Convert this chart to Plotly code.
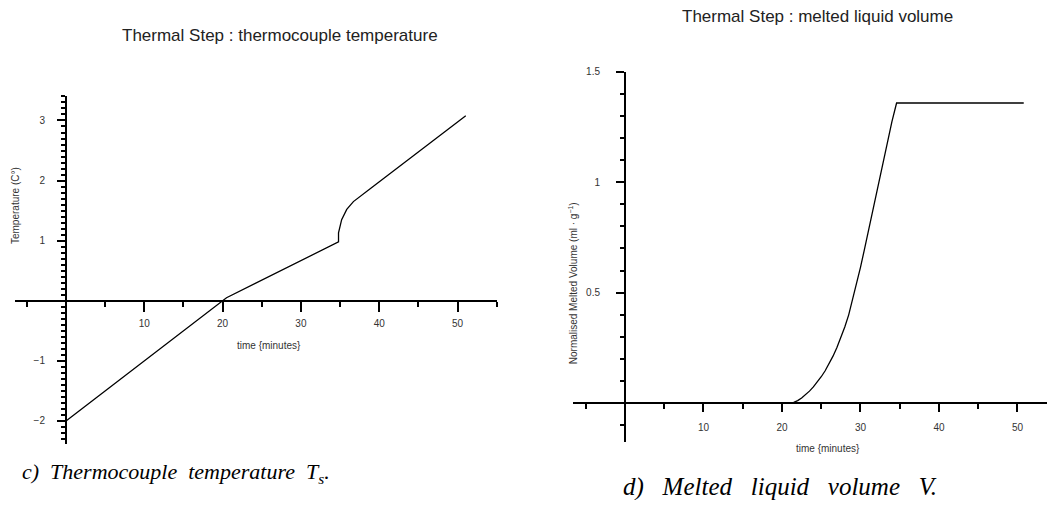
import plotly.graph_objects as go

# thermocouple temperature (left panel)
temp_time = [0, 20.5, 34.8, 34.8, 35.2, 35.85, 36.7, 37.55, 38.8, 51.05]
temp_value = [-2.0, 0.05, 0.98, 1.13, 1.35, 1.52, 1.65, 1.74, 1.86, 3.08]

# melted liquid volume (right panel)
vol_time = [0, 20.8, 21.5, 22.0, 22.5, 23.0, 23.5, 24.0, 24.5, 25.0, 25.5, 26.0,
            26.5, 27.0, 27.5, 28.0, 28.5, 29.0, 29.5, 30.0, 30.5, 31.0, 31.5,
            32.0, 32.5, 33.0, 33.5, 34.0, 34.6, 50.8]
vol_value = [0, 0, 0.004, 0.012, 0.024, 0.038, 0.055, 0.074, 0.096, 0.12, 0.147, 0.178,
             0.213, 0.252, 0.296, 0.345, 0.4, 0.47, 0.54, 0.615, 0.695, 0.775, 0.857,
             0.94, 1.023, 1.106, 1.19, 1.273, 1.358, 1.358]

temp_ticks = [-2, -1, 1, 2, 3]
vol_ticks = [0.5, 1, 1.5]
vol_tick_text = ["0.5", "1", "1.5"]
time_ticks = [10, 20, 30, 40, 50]

# the page adds an 8px body margin, so the figure is drawn a bit smaller
OFF = 8
W, H = 1055 - 2 * OFF, 508 - 2 * OFF


def px(x):
    return (x - OFF) / W


def py(y):
    return 1 - (y - OFF) / H


tick_font = dict(family="Liberation Sans, Arial, sans-serif", size=10, color="#333")

fig = go.Figure()

fig.add_trace(go.Scatter(
    x=temp_time, y=temp_value, mode="lines",
    line=dict(color="black", width=1.3),
    xaxis="x", yaxis="y", showlegend=False, hoverinfo="skip"
))

fig.add_trace(go.Scatter(
    x=vol_time, y=vol_value, mode="lines",
    line=dict(color="black", width=1.3),
    xaxis="x2", yaxis="y2", showlegend=False, hoverinfo="skip"
))

axis_common = dict(
    showgrid=False, zeroline=False, showline=True,
    linecolor="black", linewidth=2,
    ticks="outside", tickcolor="black", tickwidth=2,
    tickfont=tick_font, anchor="free"
)

fig.update_layout(
    width=W, height=H,
    margin=dict(l=0, r=0, t=0, b=0),
    plot_bgcolor="white", paper_bgcolor="white",
    xaxis=dict(
        axis_common,
        domain=[px(15.1), px(496.7)], range=[-6.5, 55],
        position=py(298.7),
        tickvals=time_ticks, ticklen=10, ticklabelstandoff=3,
        minor=dict(dtick=5, tick0=0, ticks="outside", ticklen=5,
                   tickwidth=1.5, tickcolor="black"),
    ),
    yaxis=dict(
        axis_common,
        domain=[py(443.2), py(92.3)], range=[-2.38, 3.4],
        position=px(66),
        tickvals=temp_ticks, ticklen=8, ticklabelstandoff=10,
        minor=dict(dtick=0.1, tick0=0, ticks="outside", ticklen=4,
                   tickwidth=1.5, tickcolor="black"),
    ),
    xaxis2=dict(
        axis_common,
        domain=[px(573.2), px(1046.5)], range=[-6.6, 53.7],
        position=py(402.3),
        tickvals=time_ticks, ticklen=8, ticklabelstandoff=7,
        minor=dict(dtick=5, tick0=0, ticks="outside", ticklen=5,
                   tickwidth=1.5, tickcolor="black"),
    ),
    yaxis2=dict(
        axis_common,
        domain=[py(441.6), py(67.2)], range=[-0.176, 1.5],
        position=px(625),
        tickvals=vol_ticks, ticktext=vol_tick_text,
        ticklen=8, ticklabelstandoff=14,
        minor=dict(dtick=0.1, tick0=0, ticks="outside", ticklen=4,
                   tickwidth=1.5, tickcolor="black"),
    ),
)

label_font = dict(family="Liberation Sans, Arial, sans-serif", size=10, color="#333")
title_font = dict(family="Liberation Sans, Arial, sans-serif", size=17, color="#222")
caption_font = dict(family="Liberation Serif, Times New Roman, serif", size=22, color="black")
caption_font_d = dict(family="Liberation Serif, Times New Roman, serif", size=25, color="black")

annotations = [
    dict(text="Thermal Step : thermocouple temperature", x=px(280), y=py(31), font=title_font),
    dict(text="Thermal Step : melted liquid volume", x=px(817), y=py(12), font=title_font),
    dict(text="Temperature (C°)", x=px(15), y=py(203), textangle=-90, font=label_font),
    dict(text="Normalised Melted Volume (ml · g<sup>−1</sup>)", x=px(573), y=py(281),
         textangle=-90, font=label_font),
    dict(text="time {minutes}", x=px(269), y=py(344), font=label_font),
    dict(text="time {minutes}", x=px(828), y=py(448), font=label_font),
    dict(text="<i>c)  Thermocouple  temperature  T<sub>s</sub>.</i>", x=px(20), y=py(473),
         xanchor="left", font=caption_font),
    dict(text="<i>d)   Melted   liquid   volume   V.</i>", x=px(621), y=py(487),
         xanchor="left", font=caption_font_d),
]

for a in annotations:
    a.setdefault("xanchor", "center")
    fig.add_annotation(xref="paper", yref="paper", yanchor="middle", showarrow=False, **a)

fig.write_html("out.html")
